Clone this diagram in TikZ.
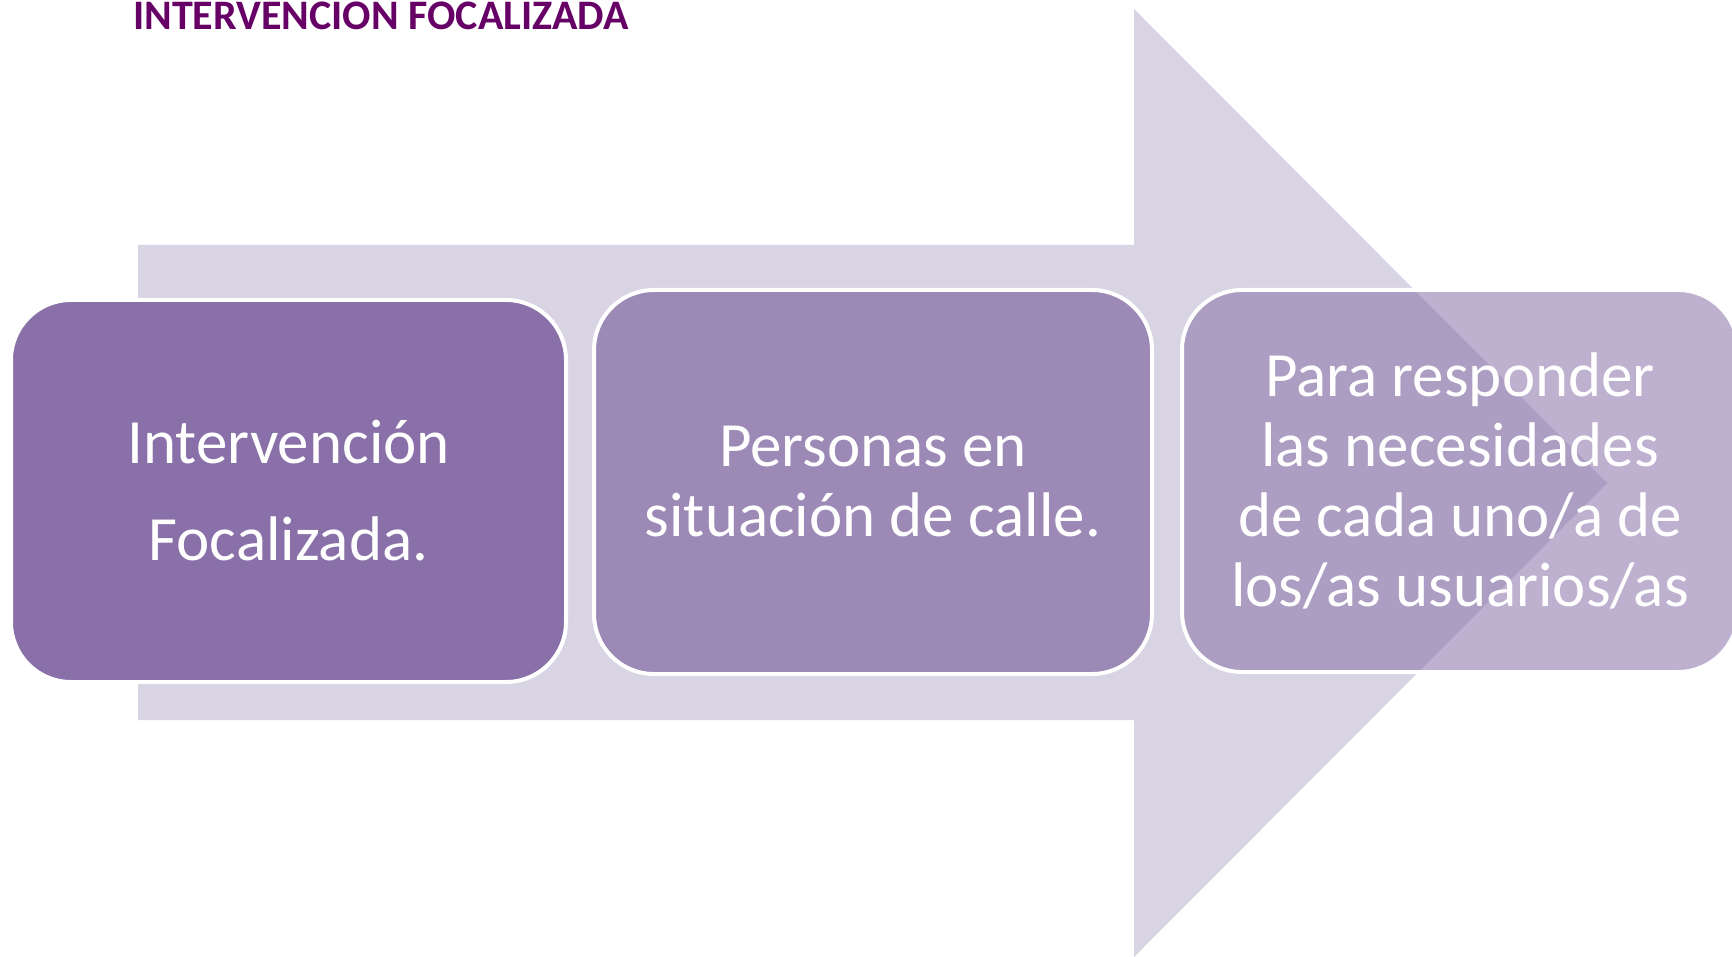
\documentclass[tikz,border=0pt]{standalone}
\usepackage{fontspec}
\setmainfont{Carlito}
\definecolor{boxpurple}{RGB}{137,112,168}
\definecolor{arrowlilac}{RGB}{216,212,227}
\definecolor{titlepurple}{RGB}{102,0,102}
\begin{document}
\begin{tikzpicture}[x=1pt,y=-1pt,
  boxbase/.style={draw=white, line width=4pt, rounded corners=60pt, fill=boxpurple,
    minimum width=555pt, minimum height=382pt, text=white, align=center, inner sep=0pt, anchor=center},
  boxtext/.style={text=white, align=center, inner sep=0pt, font=\fontsize{63}{70}\selectfont}]
\useasboundingbox (0,0) rectangle (1732,957);
\clip (0,0) rectangle (1732,957);
\fill[white] (0,0) rectangle (1732,957);
% big arrow
\fill[arrowlilac] (138,245) -- (1134,245) -- (1134,9) -- (1607,483) -- (1134,957) -- (1134,720) -- (138,720) -- cycle;
% title
\node[anchor=base west, inner sep=0pt, text=titlepurple, font=\fontsize{42}{42}\selectfont\bfseries] (title) at (133,30) {INTERVENCION FOCALIZADA};
% boxes
\node[boxbase] (b1) at (288.5,491) {};
\node[boxbase, fill opacity=0.75, minimum width=558pt, minimum height=384pt] (b2) at (873,482) {};
\node[boxbase, fill opacity=0.55, minimum width=556pt, minimum height=382pt] (b3) at (1460,481) {};
% texts
\node[boxtext, font=\fontsize{63}{97}\selectfont] (t1) at (b1.center) {Intervención\\Focalizada.};
\node[boxtext] (t2) at (b2.center) {Personas en\\situación de calle.};
\node[boxtext] (t3) at (b3.center) {Para responder\\las necesidades\\de cada uno/a de\\los/as usuarios/as};
\end{tikzpicture}
\end{document}
